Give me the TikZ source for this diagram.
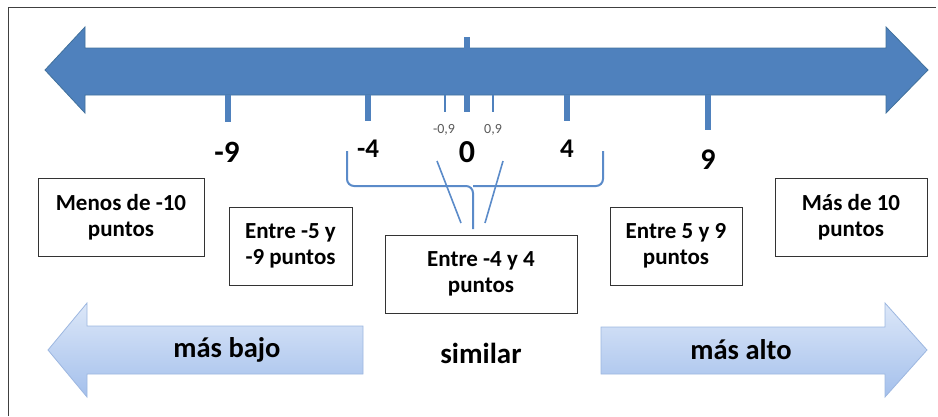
\documentclass[tikz,border=0pt]{standalone}
\usepackage{fontspec}
\setmainfont{Carlito}
\definecolor{axisblue}{HTML}{4F81BD}
\definecolor{axisedge}{HTML}{41719C}
\definecolor{bracecol}{HTML}{5B8BC9}
\definecolor{lightA}{HTML}{DCE7F8}
\definecolor{lightB}{HTML}{A4C0EC}
\definecolor{lightedge}{HTML}{9DB7E0}
\begin{document}
\begin{tikzpicture}[x=1pt,y=-1pt,
  bigtick/.style={axisblue,line width=5.5pt},
  smalltick/.style={axisblue,line width=2pt},
  numlbl/.style={font=\bfseries\fontsize{27}{30}\selectfont,inner sep=0pt},
  declbl/.style={font=\fontsize{14}{16}\selectfont,text=black!65,inner sep=0pt},
  rangebox/.style={draw=black!80,line width=0.8pt,fill=white,align=center,
     font=\bfseries\fontsize{23}{26}\selectfont,inner sep=2pt,minimum height=78pt},
  bracel/.style={bracecol,line width=2pt,rounded corners=7pt},
  thinl/.style={bracecol,line width=1.6pt},
  softarrow/.style={top color=lightA,bottom color=lightB,draw=lightedge,line width=0.8pt},
  arrowtxt/.style={font=\bfseries\fontsize{28.5}{32}\selectfont,inner sep=0pt}]
\useasboundingbox (0,0) rectangle (938,416);
% frame
\draw[black!75,line width=1pt] (8,416) -- (8,7) -- (936,7);
% main axis arrow
\draw[fill=axisblue,draw=axisedge,line width=0.8pt]
  (45,70) -- (85,27) -- (85,48) -- (886,48) -- (886,27) -- (928,70)
  -- (886,113) -- (886,95) -- (85,95) -- (85,113) -- cycle;
% ticks
\draw[bigtick] (228,95) -- (228,122);
\draw[bigtick] (368,95) -- (368,121);
\draw[bigtick] (467,37) -- (467,112);
\draw[bigtick] (567,95) -- (567,121);
\draw[bigtick] (708,95) -- (708,130);
\draw[smalltick] (445,95) -- (445,112);
\draw[smalltick] (493,95) -- (493,112);
% tick labels
\node[numlbl,font=\bfseries\fontsize{31}{34}\selectfont] (m9) at (227,152) {-9};
\node[numlbl] (m4) at (368,149) {-4};
\node[numlbl,font=\bfseries\fontsize{32}{34}\selectfont] (z0) at (467,152) {0};
\node[numlbl] (p4) at (567,149) {4};
\node[numlbl,font=\bfseries\fontsize{30}{34}\selectfont] (p9) at (708,160) {9};
\node[declbl] (m09) at (444,130) {-0,9};
\node[declbl] (p09) at (493,130) {0,9};
% range boxes
\node[rangebox,minimum width=166pt] (b1) at (121,217) {Menos de -10\\puntos};
\node[rangebox,minimum width=123pt] (b2) at (290.5,246) {Entre -5 y\\-9 puntos};
\node[rangebox,minimum width=192pt] (b3) at (481,274) {Entre -4 y 4\\puntos};
\node[rangebox,minimum width=132pt] (b4) at (676,246) {Entre 5 y 9\\puntos};
\node[rangebox,minimum width=152pt] (b5) at (851,217) {Más de 10\\puntos};
% brace
\coordinate (bl) at (347,151);
\coordinate (br) at (603,151);
\coordinate (bm) at (473,186);
\coordinate (bt) at (473,229);
\draw[bracel] (bl) -- (347,186) -- (bm) -- (bt);
\draw[bracel] (br) -- (603,186) -- (bm);
% thin connectors
\coordinate (tl) at (437,161);
\coordinate (tr) at (503,161);
\coordinate (el) at (461,223);
\coordinate (er) at (485,223);
\draw[thinl] (tl) -- (el);
\draw[thinl] (tr) -- (er);
% lower arrows
\shadedraw[softarrow] (48,350) -- (87,303) -- (87,326) -- (363,326)
  -- (363,374) -- (87,374) -- (87,397) -- cycle;
\shadedraw[softarrow] (601,327) -- (885,327) -- (885,303) -- (927,350)
  -- (885,397) -- (885,374) -- (601,374) -- cycle;
\node[arrowtxt] (bajo) at (227,350) {más bajo};
\node[arrowtxt] (alto) at (741,350) {más alto};
\node[arrowtxt,font=\bfseries\fontsize{29}{32}\selectfont] (sim) at (481,353) {similar};
\end{tikzpicture}
\end{document}
